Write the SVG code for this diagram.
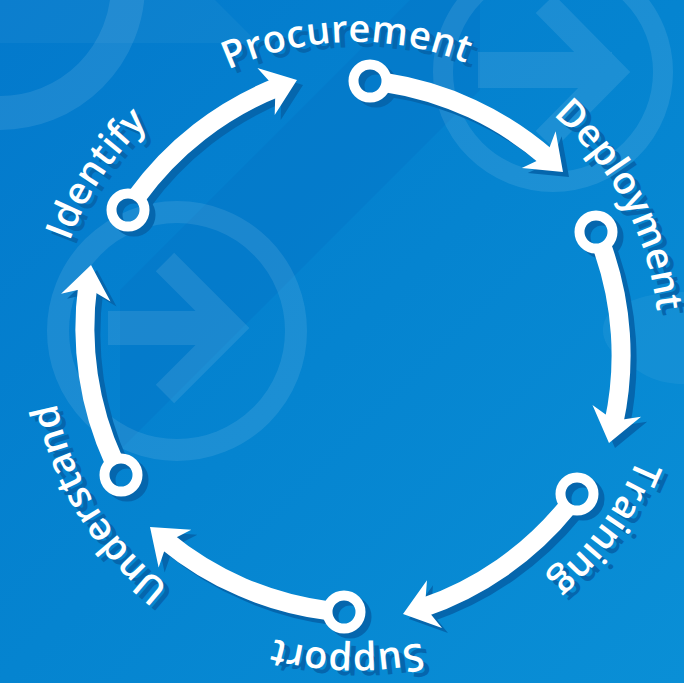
<svg xmlns="http://www.w3.org/2000/svg" xmlns:xlink="http://www.w3.org/1999/xlink" width="684" height="683" viewBox="0 0 684 683">
<defs>
  <linearGradient id="bg" x1="0" y1="0" x2="1" y2="1">
    <stop offset="0" stop-color="#0379cc"/>
    <stop offset="0.5" stop-color="#0584d0"/>
    <stop offset="1" stop-color="#0a8fd6"/>
  </linearGradient>
  <path id="textCircle" d="M 51 346 A 304 304 0 1 1 659 346 A 304 304 0 1 1 51 346"/>
  <style>
    .ring { fill: none; stroke: currentColor; stroke-width: 10; }
    .shaft { fill: none; stroke: currentColor; stroke-width: 19; }
    .head { fill: currentColor; stroke: none; }
    .label { fill: currentColor; font-family: "Open Sans", "Liberation Sans", sans-serif; font-weight: 600; font-size: 38px; letter-spacing: 0.3px; text-anchor: middle; }
  </style>
</defs>

<!-- background -->
<rect width="684" height="683" fill="url(#bg)"/>
<polygon points="120,290 410,0 480,0 480,90 120,450" fill="#026cbf" opacity="0.25"/>
<polygon points="0,0 215,0 258,43 0,43" fill="#ffffff" opacity="0.04"/>
<g opacity="0.09" stroke="#ffffff" fill="none">
  <circle cx="0" cy="-15" r="128" stroke-width="34"/>
  <circle cx="177" cy="331" r="119" stroke-width="22"/>
  <line x1="108" y1="328" x2="230" y2="328" stroke-width="34"/>
  <polyline points="165,262 231,328 165,394" stroke-width="26" stroke-linejoin="miter"/>
  <circle cx="553" cy="72" r="110" stroke-width="20"/>
  <line x1="478" y1="70" x2="612" y2="70" stroke-width="36"/>
  <polyline points="545,4 612,72 545,140" stroke-width="26" stroke-linejoin="miter"/>
</g>
<path d="M684 292 C650 292 628 300 610 312 C596 328 604 350 624 360 C644 378 662 384 684 384 Z" fill="#ffffff" opacity="0.05"/>

<!-- drop shadow layer -->
<g id="shadow" transform="translate(6,5)" style="color:#0566ad">
  <use href="#connectors"/>
  <use href="#node-identify"/>
  <use href="#node-procurement"/>
  <use href="#node-deployment"/>
  <use href="#node-training"/>
  <use href="#node-support"/>
  <use href="#node-understand"/>
</g>

<g id="foreground" style="color:#ffffff">
  <g id="connectors">
    <g id="arrow-identify-procurement">
      <path class="shaft" d="M136.16 197.42 A320 320 0 0 1 278.24 86.93"/>
      <polygon class="head" points="297,80 274.70,114.88 275.42,87.96 257.38,67.98"/>
    </g>
    <g id="arrow-procurement-deployment">
      <path class="shaft" d="M384.92 82.51 A320 320 0 0 1 548.28 158.47"/>
      <polygon class="head" points="563,172 521.79,168.08 546.07,156.44 555.63,131.27"/>
    </g>
    <g id="arrow-deployment-training">
      <path class="shaft" d="M601.82 245.83 A320 320 0 0 1 613.71 423.56"/>
      <polygon class="head" points="609,443 592.46,405.05 614.41,420.65 641.06,416.81"/>
    </g>
    <g id="arrow-training-support">
      <path class="shaft" d="M568.16 506.12 A320 320 0 0 1 422.08 608.00"/>
      <polygon class="head" points="403,614 426.98,580.25 424.94,607.10 441.98,627.95"/>
    </g>
    <g id="arrow-support-understand">
      <path class="shaft" d="M329.04 610.87 A320 320 0 0 1 165.13 540.08"/>
      <polygon class="head" points="150,527 191.32,529.66 167.40,542.04 158.62,567.50"/>
    </g>
    <g id="arrow-understand-identify">
      <path class="shaft" d="M114.08 461.69 A320 320 0 0 1 87.84 284.75"/>
      <polygon class="head" points="91,265 110.48,301.54 87.37,287.71 61.10,293.64"/>
    </g>
  </g>

  <g id="node-identify">
    <circle class="ring" cx="128" cy="210" r="16.5"/>
    <text class="label"><textPath href="#textCircle" startOffset="178.3">Identify</textPath></text>
  </g>
  <g id="node-procurement">
    <circle class="ring" cx="370" cy="81" r="16.5"/>
    <text class="label"><textPath href="#textCircle" startOffset="469">Procurement</textPath></text>
  </g>
  <g id="node-deployment">
    <circle class="ring" cx="596" cy="232" r="16.5"/>
    <text class="label"><textPath href="#textCircle" startOffset="806.5">Deployment</textPath></text>
  </g>
  <g id="node-training">
    <circle class="ring" cx="577" cy="494" r="16.5"/>
    <text class="label"><textPath href="#textCircle" startOffset="1146.1">Training</textPath></text>
  </g>
  <g id="node-support">
    <circle class="ring" cx="344" cy="612" r="16.5"/>
    <text class="label"><textPath href="#textCircle" startOffset="1439.5">Support</textPath></text>
  </g>
  <g id="node-understand">
    <circle class="ring" cx="121" cy="475" r="16.5"/>
    <text class="label"><textPath href="#textCircle" startOffset="1741.9">Understand</textPath></text>
  </g>
</g>
</svg>
